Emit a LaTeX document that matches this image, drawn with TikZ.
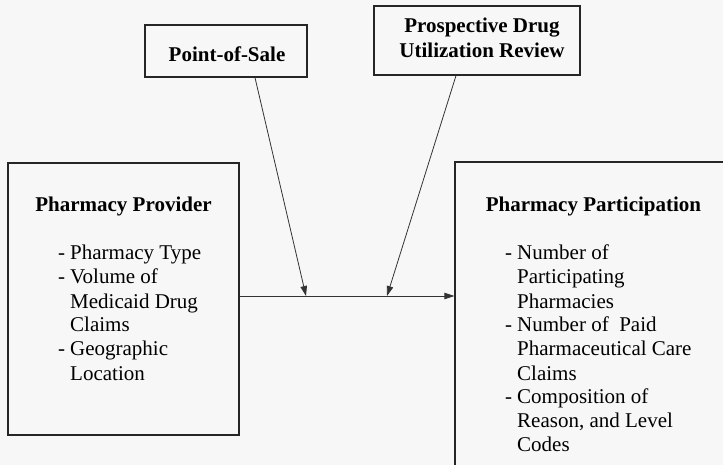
\documentclass[tikz,border=0pt]{standalone}
\usepackage{fontspec}
\setmainfont{Liberation Serif}
\usetikzlibrary{arrows.meta}
\begin{document}
\begin{tikzpicture}[x=1pt,y=-1pt,
  box/.style={draw=black!85,line width=1.3pt,inner sep=0pt},
  conn/.style={draw=black!80,line width=0.8pt},
  arr/.style={conn,-{Triangle[length=10pt,width=6.5pt]}},
  ttl/.style={font=\fontsize{21}{25}\selectfont\bfseries,inner sep=0pt,anchor=base,align=center},
  lst/.style={font=\fontsize{21}{24}\selectfont,inner sep=0pt,anchor=base west}]
\fill[black!3] (0,0) rectangle (723,465);
\useasboundingbox (0,0) rectangle (723,465);
% boxes
\node[box,minimum width=231pt,minimum height=272pt] (prov) at (123.5,299) {};
\node[box,minimum width=278pt,minimum height=320pt] (part) at (594,322) {};
\node[box,minimum width=162pt,minimum height=52pt] (pos) at (226,51) {};
\node[box,minimum width=206pt,minimum height=69pt] (pdur) at (477,40.5) {};
% titles
\node[ttl] (provT) at (123.5,212) {Pharmacy Provider};
\node[ttl] (partT) at (593.5,212) {Pharmacy Participation};
\node[ttl] (posT) at (227,62) {Point-of-Sale};
\node[ttl] (pdurT1) at (482,33) {Prospective Drug};
\node[ttl] (pdurT2) at (482,58) {Utilization Review};
% lists
\node[lst] (provL) at (58,260) {\begin{tabular}[t]{@{}l@{\hspace{5pt}}l@{}}
-&Pharmacy Type\\
-&Volume of\\
&Medicaid Drug\\
&Claims\\
-&Geographic\\
&Location
\end{tabular}};
\node[lst] (partL) at (505,260) {\begin{tabular}[t]{@{}l@{\hspace{5pt}}l@{}}
-&Number of\\
&Participating\\
&Pharmacies\\
-&Number of~ Paid\\
&Pharmaceutical Care\\
&Claims\\
-&Composition of\\
&Reason, and Level\\
&Codes
\end{tabular}};
% connectors
\coordinate (j1) at (306,296);
\coordinate (j2) at (387,296);
\draw[arr] (prov.east |- j1) -- (part.west |- j1);
\draw[arr] ([xshift=29pt]pos.south) -- (j1);
\draw[arr] ([xshift=-21pt]pdur.south) -- (j2);
\end{tikzpicture}
\end{document}
